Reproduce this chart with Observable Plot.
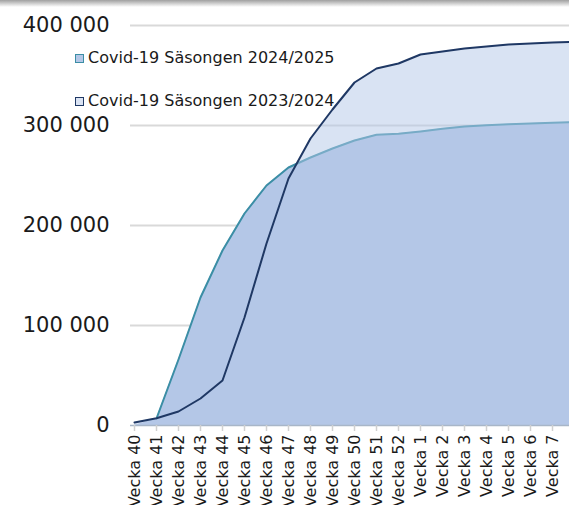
<!DOCTYPE html>
<html><head><meta charset="utf-8">
<script src="https://cdn.jsdelivr.net/npm/d3@7"></script>
<script src="https://cdn.jsdelivr.net/npm/@observablehq/plot@0.6"></script>
<style>
html,body{margin:0;padding:0;background:#fff;}
#wrap{position:relative;width:569px;height:505px;overflow:hidden;font-family:"DejaVu Sans",sans-serif;}
#shade{position:absolute;left:0;top:0;width:569px;height:7px;background:linear-gradient(#a0a0a0,rgba(255,255,255,0));}
.leg{position:absolute;left:75px;font-size:16px;line-height:20px;color:#1a1a1a;white-space:nowrap;display:flex;align-items:center;}
.box{width:7px;height:7px;border:1.5px solid;margin-right:4px;}
</style></head>
<body><div id="wrap"></div>
<script>
const weeks = ["Vecka 40","Vecka 41","Vecka 42","Vecka 43","Vecka 44","Vecka 45","Vecka 46","Vecka 47","Vecka 48","Vecka 49","Vecka 50","Vecka 51","Vecka 52","Vecka 1","Vecka 2","Vecka 3","Vecka 4","Vecka 5","Vecka 6","Vecka 7","Vecka 8"];
const season2324 = [3000,7300,14000,27000,45000,108000,182000,247000,287000,316000,343000,357000,362000,371000,374000,377000,379000,381000,382000,383000,383800];
const season2425 = [null,7000,66000,128000,175000,212000,240000,258000,268000,277000,285000,290700,291700,294000,296700,299000,300300,301300,302000,302700,303400];
const seriesNames = ["Covid-19 Säsongen 2024/2025","Covid-19 Säsongen 2023/2024"];
const seriesLine = ["#3b8ea5","#1f3864"];
const yTicks = [0,100000,200000,300000,400000];
const labeledWeeks = weeks.slice(0,20);

const rows = weeks.map((w,i)=>({week:w, a:season2324[i], b:season2425[i]}));
const fmt = d => d3.format(",")(d).replace(/,/g, " ");

const plot = Plot.plot({
  width:569, height:505, marginLeft:130, marginRight:0, marginTop:25, marginBottom:80,
  style:{fontFamily:"DejaVu Sans", color:"#1a1a1a", background:"white", overflow:"hidden"},
  x:{type:"point", domain:weeks, range:[131, 131+20*22.26], padding:0, axis:null},
  y:{domain:[0,400000], axis:null},
  marks:[
    Plot.ruleY(yTicks.slice(1), {stroke:"#d9d9d9", strokeWidth:2}),
    Plot.areaY(rows, {x:"week", y:"b", fill:"#b4c7e7", clip:true}),
    Plot.lineY(rows, {x:"week", y:"b", stroke:seriesLine[0], strokeWidth:2, clip:true}),
    Plot.areaY(rows, {x:"week", y:"a", fill:"#b4c7e7", fillOpacity:0.5, clip:true}),
    Plot.lineY(rows, {x:"week", y:"a", stroke:seriesLine[1], strokeWidth:2, clip:true}),
    Plot.ruleY([0], {stroke:"#a8b6c8", strokeWidth:1.5}),
    Plot.axisX({ticks:labeledWeeks, tickSize:6, tickPadding:3, tickRotate:-90, fontSize:16, stroke:"#d0d0d0", strokeWidth:1.5, fill:"#1a1a1a", label:null}),
    Plot.axisY({ticks:yTicks, tickSize:0, tickPadding:21, fontSize:21, tickFormat:fmt, label:null})
  ]
});
const wrap = document.getElementById("wrap");
wrap.appendChild(plot);
const shade = document.createElement("div"); shade.id = "shade"; wrap.appendChild(shade);
const legTops = [48, 91];
const boxFills = ["#b4c7e7","#dae3f3"];
seriesNames.forEach((n,i)=>{
  const d = document.createElement("div");
  d.className = "leg"; d.style.top = legTops[i] + "px";
  const b = document.createElement("span"); b.className = "box";
  b.style.borderColor = seriesLine[i]; b.style.background = boxFills[i];
  const t = document.createElement("span"); t.textContent = n;
  d.appendChild(b); d.appendChild(t); wrap.appendChild(d);
});
</script>
</body></html>
